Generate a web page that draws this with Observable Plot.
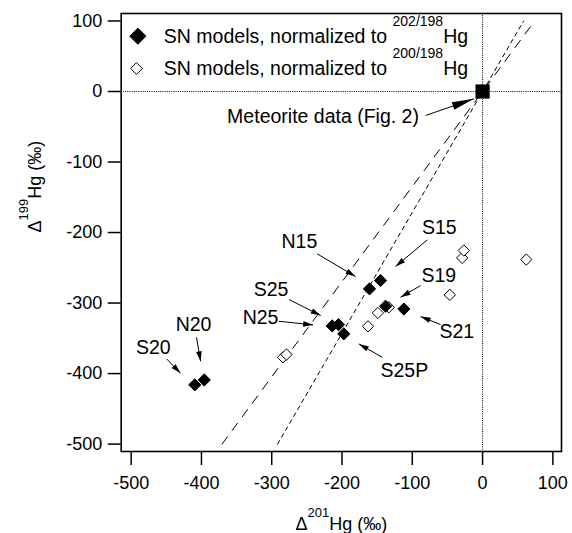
<!DOCTYPE html>
<html><head><meta charset="utf-8">
<script src="https://cdn.jsdelivr.net/npm/d3@7"></script>
<script src="https://cdn.jsdelivr.net/npm/@observablehq/plot@0.6"></script>
<style>body{margin:0;background:#fff} svg{display:block}</style>
</head><body><div id="chart"></div>
<script>
// ---- axes ----
const xTicks = [-500, -400, -300, -200, -100, 0, 100];
const yTicks = [-500, -400, -300, -200, -100, 0, 100];
const xDomain = [-514.2, 112.3];
const yDomain = [-510.5, 110.6];

// ---- SN models normalized to 202/198Hg (filled diamonds) ----
const filledX = [-409.5, -396, -214, -205, -197.5, -160.9, -145.2, -138, -112];
const filledY = [-416, -409, -332.4, -330.5, -343.7, -279.9, -268, -304.5, -308.5];

// ---- SN models normalized to 200/198Hg (open diamonds) ----
const openX = [-284, -279, -163, -149, -133.4, -46.6, -29, -26.7, 62.2];
const openY = [-377, -373, -333, -314, -306, -288.4, -236, -225.5, -238.3];

// ---- meteorite data ----
const meteoriteX = [0];
const meteoriteY = [0];

// ---- reference lines ----
const lineLongX = [-370.7, 74.1];
const lineLongY = [-500, 100];
const lineShortX = [-291.7, 58.4];
const lineShortY = [-500, 100];

// ---- annotations ----
const labelText = ["N15", "S25", "N25", "N20", "S20", "S25P", "S15", "S19", "S21"];
const labelX = [-260.7, -301, -315.9, -411.3, -468.6, -111.4, -61.5, -62.2, -36.6];
const labelY = [-213.2, -281.6, -321.3, -330.8, -362.7, -396.5, -193.2, -260.6, -340.9];
const arrowX1 = [-235.3, -275.4, -289.9, -407, -449.6, -142.7, -78.7, -88.2, -59.8];
const arrowY1 = [-230.2, -295, -325.8, -348.5, -379.1, -376.9, -210.4, -275.2, -330.5];
const arrowX2 = [-180.8, -230.3, -241, -401.3, -429.7, -176, -123.8, -116.7, -88.2];
const arrowY2 = [-262.4, -317.7, -331, -382.6, -399.6, -357.9, -248.2, -291.8, -319.1];

const meteorText = ["Meteorite data (Fig. 2)"];
const meteorTextX = [-227];
const meteorTextY = [-36.5];
const meteorArrowX1 = [-81.1], meteorArrowY1 = [-34];
const meteorArrowX2 = [-12.4], meteorArrowY2 = [-10.4];

// ---- legend ----
const legendMain = ["SN models, normalized to ", "SN models, normalized to "];
const legendSup = ["202/198", "200/198"];
const legendTail = ["Hg", "Hg"];
const legendDotX = [-490.5, -492.4];
const legendDotY = [78.4, 32.6];
const legendTextX = [-453.5, -453.5];
const legendTextY = [77.9, 32.3];

// ---- axis titles ----
const xTitle = ["Δ", "201", "Hg (‰)"];
const yTitle = ["Δ", "199", "Hg (‰)"];

const idx = a => a.map((_, i) => i);
const FONT = '"Liberation Sans", Arial, Helvetica, sans-serif';

const plot = Plot.plot({
  width: 572,
  height: 533,
  marginLeft: 120.7,
  marginRight: 11,
  marginTop: 13,
  marginBottom: 82,
  style: {fontFamily: FONT, fontSize: "18px", color: "black", background: "white"},
  x: {domain: xDomain},
  y: {domain: yDomain},
  marks: [
    Plot.ruleX([0], {stroke: "black", strokeWidth: 1, strokeDasharray: "1,1.2"}),
    Plot.ruleY([0], {stroke: "black", strokeWidth: 1, strokeDasharray: "1,1.2"}),
    Plot.line(idx(lineLongX), {x: i => lineLongX[i], y: i => lineLongY[i], stroke: "black", strokeWidth: 1, strokeDasharray: "9,8"}),
    Plot.line(idx(lineShortX), {x: i => lineShortX[i], y: i => lineShortY[i], stroke: "black", strokeWidth: 1, strokeDasharray: "4,4"}),
    Plot.link(idx(labelText), {x1: i => arrowX1[i], y1: i => arrowY1[i], x2: i => arrowX2[i], y2: i => arrowY2[i],
      stroke: "black", strokeWidth: 1, markerEnd: "arrow"}),
    Plot.link(idx(meteorText), {x1: i => meteorArrowX1[i], y1: i => meteorArrowY1[i], x2: i => meteorArrowX2[i], y2: i => meteorArrowY2[i],
      stroke: "black", strokeWidth: 1, markerEnd: "arrow"}),
    Plot.dot(idx(openX), {x: i => openX[i], y: i => openY[i], symbol: "diamond2", r: 5.1, fill: "white", stroke: "black", strokeWidth: 1}),
    Plot.dot(idx(filledX), {x: i => filledX[i], y: i => filledY[i], symbol: "diamond2", r: 5.5, fill: "black", stroke: "black", strokeWidth: 1}),
    Plot.dot(idx(meteoriteX), {x: i => meteoriteX[i], y: i => meteoriteY[i], symbol: "square", r: 8, fill: "black"}),
    Plot.text(idx(labelText), {x: i => labelX[i], y: i => labelY[i], text: i => labelText[i], fontSize: 19.5, fill: "black"}),
    Plot.text(idx(meteorText), {x: i => meteorTextX[i], y: i => meteorTextY[i], text: i => meteorText[i], fontSize: 19.5, fill: "black"}),
    // legend
    Plot.dot([0], {x: i => legendDotX[i], y: i => legendDotY[i], symbol: "diamond2", r: 7.3, fill: "black", stroke: "black", strokeWidth: 1}),
    Plot.dot([1], {x: i => legendDotX[i], y: i => legendDotY[i], symbol: "diamond2", r: 5.3, fill: "white", stroke: "black", strokeWidth: 1}),
    Plot.text(idx(legendMain), {x: i => legendTextX[i], y: i => legendTextY[i], text: i => legendMain[i] + legendSup[i] + legendTail[i],
      textAnchor: "start", fontSize: 19.5, fill: "black"}),
    // axes
    Plot.axisX({ticks: xTicks, tickSize: 14, tickPadding: 11, tickFormat: d => String(d), label: null, strokeWidth: 1.5, fontSize: 18}),
    Plot.axisY({ticks: yTicks, tickSize: 13, tickPadding: 6, tickFormat: d => String(d), label: null, strokeWidth: 1.5, fontSize: 18}),
    Plot.frame({stroke: "black", strokeWidth: 1.6}),
    // axis titles
    Plot.text([0], {frameAnchor: "bottom", text: () => xTitle.join(""), lineAnchor: "bottom", dy: 78, fontSize: 18, fill: "black"}),
    Plot.text([0], {frameAnchor: "left", text: () => yTitle.join(""), rotate: -90, lineAnchor: "bottom", dx: -80.7, fontSize: 18, fill: "black"})
  ]
});

const svg = d3.select(plot);

function richText(node, main, sup, tail, supSize, shift) {
  const t = d3.select(node);
  t.text(null);
  t.append("tspan").text(main);
  t.append("tspan").attr("font-size", supSize).attr("dy", -shift).text(sup);
  t.append("tspan").attr("dy", shift).text(tail);
}

svg.selectAll("text").each(function() {
  const s = this.textContent;
  for (let i = 0; i < legendMain.length; i++) {
    if (s === legendMain[i] + legendSup[i] + legendTail[i]) { richText(this, legendMain[i], legendSup[i], legendTail[i], 14, 16.5); return; }
  }
  if (s === xTitle.join("")) { richText(this, xTitle[0], xTitle[1], xTitle[2], 13, 13); return; }
  if (s === yTitle.join("")) { richText(this, yTitle[0], yTitle[1], yTitle[2], 13, 13); return; }
});

function styleMarker(sel, len, half) {
  sel.attr("viewBox", `${-len - 1} ${-half - 1} ${len + 2} ${2 * half + 2}`)
    .attr("markerWidth", len + 2).attr("markerHeight", 2 * half + 2)
    .attr("markerUnits", "userSpaceOnUse").attr("refX", 0).attr("refY", 0)
    .attr("fill", "black").attr("stroke", "none");
  sel.selectAll("path").attr("d", `M${-len},${-half}L0,0L${-len},${half}Z`);
}
const markers = svg.selectAll("marker").nodes();
markers.forEach((m, k) => {
  if (k === markers.length - 1 && markers.length > 1) styleMarker(d3.select(m), 22, 4);
  else styleMarker(d3.select(m), 10, 2.8);
});

document.getElementById("chart").appendChild(plot);
</script>
</body></html>
